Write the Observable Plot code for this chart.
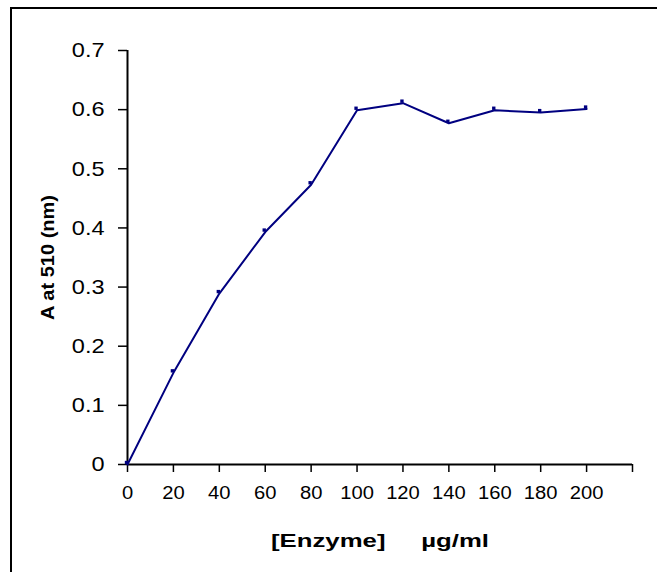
<!DOCTYPE html>
<html>
<head>
<meta charset="utf-8">
<script src="https://cdn.jsdelivr.net/npm/d3@7"></script>
<script src="https://cdn.jsdelivr.net/npm/@observablehq/plot@0.6"></script>
<style>
  html, body { margin: 0; padding: 0; background: #fff; overflow: hidden; }
  #wrap { position: relative; width: 657px; height: 572px; }
  #frame { position: absolute; left: 10px; top: 7px; width: 700px; height: 640px;
           border-left: 2px solid #000; border-top: 2px solid #000; pointer-events: none; }
</style>
</head>
<body>
<div id="wrap"><div id="frame"></div></div>
<script>
// Enzyme concentration (µg/ml)
const enzyme = [0, 20, 40, 60, 80, 100, 120, 140, 160, 180, 200];
// Absorbance at 510 nm
const absorbance = [0, 0.155, 0.289, 0.393, 0.473, 0.599, 0.611, 0.577, 0.599, 0.595, 0.601];

const xTicks = [0, 20, 40, 60, 80, 100, 120, 140, 160, 180, 200, 220];
const xTickLabels = ["0", "20", "40", "60", "80", "100", "120", "140", "160", "180", "200", ""];
const yTicks = [0, 0.1, 0.2, 0.3, 0.4, 0.5, 0.6, 0.7];
const yTickLabels = ["0", "0.1", "0.2", "0.3", "0.4", "0.5", "0.6", "0.7"];

const xTitle = "[Enzyme]\u00a0\u00a0\u00a0\u00a0\u00a0µg/ml";
const yTitle = "A at 510 (nm)";

const data = enzyme.map((x, i) => ({x, y: absorbance[i]}));
const navy = "#000080";

const chart = Plot.plot({
  width: 657,
  height: 572,
  marginLeft: 127,
  marginRight: 25,
  marginTop: 50,
  marginBottom: 108,
  style: {fontFamily: "'Liberation Sans', Arial, sans-serif", background: "transparent", color: "#000"},
  x: {domain: [0, 220]},
  y: {domain: [0, 0.7]},
  marks: [
    Plot.axisY({
      ticks: yTicks,
      tickFormat: d => yTickLabels[yTicks.findIndex(t => Math.abs(t - d) < 1e-9)],
      tickSize: 9,
      tickPadding: 14,
      fontSize: 21,
      strokeWidth: 1.5,
      label: null
    }),
    Plot.axisY({
      ticks: [],
      label: yTitle,
      labelAnchor: "center",
      labelArrow: "none",
      labelOffset: 86,
      fontSize: 18,
      fontWeight: "bold"
    }),
    Plot.axisX({
      ticks: xTicks,
      tickFormat: d => xTickLabels[xTicks.indexOf(d)],
      tickSize: 8,
      tickPadding: 14,
      fontSize: 18,
      strokeWidth: 1.5,
      label: null
    }),
    Plot.axisX({
      ticks: [],
      label: xTitle,
      labelAnchor: "center",
      labelArrow: "none",
      labelOffset: 82,
      fontSize: 18,
      fontWeight: "bold"
    }),
    Plot.ruleX([0], {stroke: "#000", strokeWidth: 2}),
    Plot.ruleY([0], {stroke: "#000", strokeWidth: 2}),
    Plot.line(data, {x: "x", y: "y", stroke: navy, strokeWidth: 2}),
    Plot.dot(data, {x: "x", y: "y", symbol: "square", r: 1.9, fill: navy, dx: -1, dy: -2})
  ]
});

document.getElementById("wrap").prepend(chart);

// the reference's text is drawn slightly stretched horizontally
d3.select(chart).selectAll("text").each(function() {
  const t = this.textContent;
  let len = null;
  if (t === xTitle) len = 218;
  else if (t === yTitle) len = 125;
  else if (t && (yTickLabels.includes(t) || xTickLabels.includes(t))) len = this.getComputedTextLength() * 1.12;
  if (len) {
    this.setAttribute("textLength", len);
    this.setAttribute("lengthAdjust", "spacingAndGlyphs");
  }
});
</script>
</body>
</html>
